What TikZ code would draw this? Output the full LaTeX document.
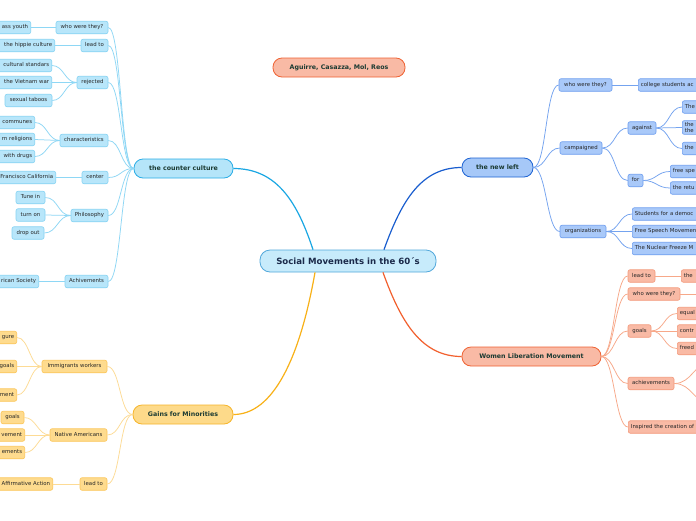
\documentclass[tikz,border=0pt]{standalone}
\usepackage{fontspec}
\setmainfont{DejaVu Sans}
\definecolor{cfill}{HTML}{B8E6FA}
\definecolor{cdraw}{HTML}{86D3F3}
\definecolor{cline}{HTML}{8ED7F5}
\definecolor{cmain}{HTML}{1AA7E3}
\definecolor{cbfill}{HTML}{B5E5F9}
\definecolor{cbdraw}{HTML}{2AADE6}
\definecolor{nfill}{HTML}{A9C9F9}
\definecolor{ndraw}{HTML}{6E9EEF}
\definecolor{nline}{HTML}{74A3EF}
\definecolor{nmain}{HTML}{1A5ECF}
\definecolor{nbfill}{HTML}{A6C8F8}
\definecolor{nbdraw}{HTML}{1D63D3}
\definecolor{wfill}{HTML}{F9BAA5}
\definecolor{wdraw}{HTML}{F39A7C}
\definecolor{wline}{HTML}{F7A889}
\definecolor{wmain}{HTML}{F2602E}
\definecolor{wbdraw}{HTML}{EF6233}
\definecolor{gfill}{HTML}{FEDB8E}
\definecolor{gdraw}{HTML}{FCC65A}
\definecolor{gline}{HTML}{FDDB95}
\definecolor{gmain}{HTML}{F8B118}
\definecolor{gbfill}{HTML}{FDDA8A}
\definecolor{gbdraw}{HTML}{F6B52A}
\definecolor{cenfill}{HTML}{C7EBFB}
\definecolor{cendraw}{HTML}{52A8DB}
\definecolor{navy}{HTML}{1B2A4A}
\definecolor{dkgreen}{HTML}{1B3A32}
\definecolor{leaftext}{HTML}{262626}
\begin{document}
\begin{tikzpicture}[x=1pt,y=-1pt,
  base/.style={draw, rounded corners=2pt, font=\fontsize{5.4}{6.4}\selectfont, text=leaftext,
    minimum height=12.5pt, inner xsep=2.6pt, inner ysep=0pt, text height=4pt, text depth=1.1pt, line width=0.6pt},
  cleaf/.style={base, fill=cfill, draw=cdraw},
  nleaf/.style={base, fill=nfill, draw=ndraw},
  wleaf/.style={base, fill=wfill, draw=wdraw},
  gleaf/.style={base, fill=gfill, draw=gdraw},
  cutL/.style={anchor=east, text width=100pt, align=right},
  cutR/.style={anchor=west, text width=100pt, align=left},
  branch/.style={draw, rounded corners=9pt, minimum height=19pt, inner xsep=4pt, line width=0.8pt,
    font=\fontsize{6.3}{7.5}\selectfont\bfseries, text=dkgreen},
  cln/.style={draw=cline, line width=0.75pt},
  nln/.style={draw=nline, line width=0.75pt},
  wln/.style={draw=wline, line width=0.75pt},
  gln/.style={draw=gline, line width=0.75pt},
  mainln/.style={line width=1.2pt}
]
\useasboundingbox (0,0) rectangle (696,520);
\clip (0,0) rectangle (696,520);
\fill[white] (0,0) rectangle (696,520);

% ---------- central and branches ----------
\node[draw=cendraw, fill=cenfill, line width=0.8pt, rounded corners=10pt, minimum width=176pt, minimum height=22pt,
  font=\fontsize{8.6}{10}\selectfont\bfseries, text=navy] (central) at (348,261) {Social Movements in the 60´s};
\node[branch, fill=wfill, draw=wbdraw, minimum width=132pt] (title) at (339,67.5) {Aguirre, Casazza, Mol, Reos};
\node[branch, fill=cbfill, draw=cbdraw, minimum width=99pt] (cc) at (183.5,168.5) {the counter culture};
\node[branch, fill=nbfill, draw=nbdraw, minimum width=71pt] (nl) at (497.5,167.5) {the new left};
\node[branch, fill=wfill, draw=wbdraw, minimum width=139pt] (wl) at (531.5,356.5) {Women Liberation Movement};
\node[branch, fill=gbfill, draw=gbdraw, minimum width=100pt] (gm) at (183,414.5) {Gains for Minorities};

\draw[mainln, cmain] ([xshift=-35pt]central.north) .. controls +(-15,-45) and +(45,0) .. (cc.east);
\draw[mainln, nmain] ([xshift=36pt]central.north) .. controls +(18,-50) and +(-40,0) .. (nl.west);
\draw[mainln, wmain] ([xshift=35pt]central.south) .. controls +(18,50) and +(-40,0) .. (wl.west);
\draw[mainln, gmain] ([xshift=-33pt]central.south) .. controls +(-15,85) and +(40,0) .. (gm.east);

% ---------- the counter culture ----------
\node[cleaf, minimum width=52pt] (cwho) at (82,27.5) {who were they?};
\node[cleaf, minimum width=27pt] (clead) at (94.5,45.5) {lead to};
\node[cleaf, minimum width=31pt] (crej) at (92.5,82.5) {rejected};
\node[cleaf, minimum width=48pt] (cchar) at (84,140.5) {characteristics};
\node[cleaf, minimum width=26pt] (ccent) at (95,177.5) {center};
\node[cleaf, minimum width=37pt] (cphil) at (89.5,215.5) {Philosophy};
\node[cleaf, minimum width=43pt] (cach) at (86.5,281.5) {Achivements};

\node[cleaf, cutL] (cyouth) at (31,27.5) {ass youth};
\node[cleaf, cutL] (chip) at (55,45.5) {the hippie culture};
\node[cleaf, cutL] (cstd) at (52,65.5) {cultural standars};
\node[cleaf, cutL] (cviet) at (52,82.5) {the Vietnam war};
\node[cleaf, minimum width=47pt] (ctab) at (28.5,100.5) {sexual taboos};
\node[cleaf, cutL] (ccom) at (35,122.5) {communes};
\node[cleaf, cutL] (crel) at (35,139.5) {rn religions};
\node[cleaf, cutL] (cdrug) at (35,156.5) {with drugs};
\node[cleaf, cutL] (csf) at (56,177.5) {Francisco California};
\node[cleaf, minimum width=29pt] (ctune) at (30.5,197.5) {Tune in};
\node[cleaf, minimum width=29pt] (cturn) at (30.5,215) {turn on};
\node[cleaf, minimum width=32pt] (cdrop) at (28,233) {drop out};
\node[cleaf, cutL] (csoc) at (39,281.5) {rican Society};

\foreach \m in {cwho,clead,crej,cchar,ccent,cphil,cach}
  \draw[cln] (cc.west) .. controls +(-13,0) and +(13,0) .. (\m.east);
\draw[cln] (cwho.west) -- (cyouth.east);
\draw[cln] (clead.west) -- (chip.east);
\foreach \l in {cstd,cviet,ctab}
  \draw[cln] (crej.west) .. controls +(-12,0) and +(12,0) .. (\l.east);
\foreach \l in {ccom,crel,cdrug}
  \draw[cln] (cchar.west) .. controls +(-12,0) and +(12,0) .. (\l.east);
\draw[cln] (ccent.west) -- (csf.east);
\foreach \l in {ctune,cturn,cdrop}
  \draw[cln] (cphil.west) .. controls +(-13,0) and +(13,0) .. (\l.east);
\draw[cln] (cach.west) -- (csoc.east);

% ---------- the new left ----------
\node[nleaf, minimum width=53pt] (nwho) at (585.5,85) {who were they?};
\node[nleaf, minimum width=42pt] (ncamp) at (581,148) {campaigned};
\node[nleaf, minimum width=28pt] (nag) at (642,128) {against};
\node[nleaf, minimum width=15pt, inner xsep=2pt] (nfor) at (635.5,180.5) {for};
\node[nleaf, minimum width=46pt] (norg) at (583,231.5) {organizations};

\node[nleaf, cutR] (ncol) at (638,85) {college students ac};
\node[nleaf, cutR] (nag1) at (682,107) {The};
\node[nleaf, cutR, text height=, text depth=, inner ysep=1.5pt, font=\fontsize{5.4}{6.6}\selectfont] (nag2) at (682,127.5) {the\\the};
\node[nleaf, cutR] (nag3) at (682,148.5) {the};
\node[nleaf, cutR] (nfor1) at (670,171.5) {free spe};
\node[nleaf, cutR] (nfor2) at (670,188) {the retu};
\node[nleaf, cutR] (norg1) at (632,214) {Students for a democ};
\node[nleaf, cutR] (norg2) at (632,231.5) {Free Speech Movemen};
\node[nleaf, cutR] (norg3) at (632,248.5) {The Nuclear Freeze M};

\foreach \m in {nwho,ncamp,norg}
  \draw[nln] (nl.east) .. controls +(13,0) and +(-13,0) .. (\m.west);
\draw[nln] (nwho.east) -- (ncol.west);
\foreach \m in {nag,nfor}
  \draw[nln] (ncamp.east) .. controls +(13,0) and +(-13,0) .. (\m.west);
\foreach \l in {nag1,nag2,nag3}
  \draw[nln] (nag.east) .. controls +(13,0) and +(-13,0) .. (\l.west);
\foreach \l in {nfor1,nfor2}
  \draw[nln] (nfor.east) .. controls +(13,0) and +(-13,0) .. (\l.west);
\foreach \l in {norg1,norg2,norg3}
  \draw[nln] (norg.east) .. controls +(13,0) and +(-13,0) .. (\l.west);

% ---------- Women Liberation Movement ----------
\node[wleaf, minimum width=27pt] (wlead) at (641.5,276) {lead to};
\node[wleaf, minimum width=52pt] (wwho) at (654,294) {who were they?};
\node[wleaf, minimum width=23pt] (wgoal) at (639.5,331) {goals};
\node[wleaf, minimum width=46pt] (wach) at (651,383.5) {achievements};
\node[wleaf, cutR] (winsp) at (628,427) {Inspired the creation of};

\node[wleaf, cutR] (wlead1) at (681,276) {the};
\node[wleaf, cutR] (wg1) at (677,313.5) {equal};
\node[wleaf, cutR] (wg2) at (677,331) {contr};
\node[wleaf, cutR] (wg3) at (677,348.5) {freed};
\coordinate (wwho1) at (720,294);
\coordinate (wach1) at (712,362);
\coordinate (wach2) at (712,404);

\foreach \m in {wlead,wwho,wgoal,wach,winsp}
  \draw[wln] (wl.east) .. controls +(13,0) and +(-13,0) .. (\m.west);
\draw[wln] (wlead.east) -- (wlead1.west);
\draw[wln] (wwho.east) -- (wwho1);
\foreach \l in {wg1,wg2,wg3}
  \draw[wln] (wgoal.east) .. controls +(13,0) and +(-13,0) .. (\l.west);
\foreach \l in {wach1,wach2}
  \draw[wln] (wach.east) .. controls +(18,0) and +(-18,0) .. (\l);

% ---------- Gains for Minorities ----------
\node[gleaf, minimum width=65pt] (gimm) at (74.5,366.5) {Immigrants workers};
\node[gleaf, minimum width=57pt] (gnat) at (78.5,435) {Native Americans};
\node[gleaf, minimum width=27pt] (glead) at (93.5,484) {lead to};

\node[gleaf, cutL] (gi1) at (17,337.5) {gure};
\node[gleaf, cutL] (gi2) at (17,366.5) {goals};
\node[gleaf, cutL] (gi3) at (17,395) {ment};
\node[gleaf, minimum width=23pt] (gn1) at (12.5,417.5) {goals};
\node[gleaf, cutL] (gn2) at (25,435) {vement};
\node[gleaf, cutL] (gn3) at (25,452.5) {ements};
\node[gleaf, cutL] (gl1) at (53,484) {Affirmative Action};

\foreach \m in {gimm,gnat,glead}
  \draw[gln] (gm.west) .. controls +(-13,0) and +(13,0) .. (\m.east);
\foreach \l in {gi1,gi2,gi3}
  \draw[gln] (gimm.west) .. controls +(-12,0) and +(12,0) .. (\l.east);
\foreach \l in {gn1,gn2,gn3}
  \draw[gln] (gnat.west) .. controls +(-12,0) and +(12,0) .. (\l.east);
\draw[gln] (glead.west) -- (gl1.east);
\end{tikzpicture}
\end{document}
